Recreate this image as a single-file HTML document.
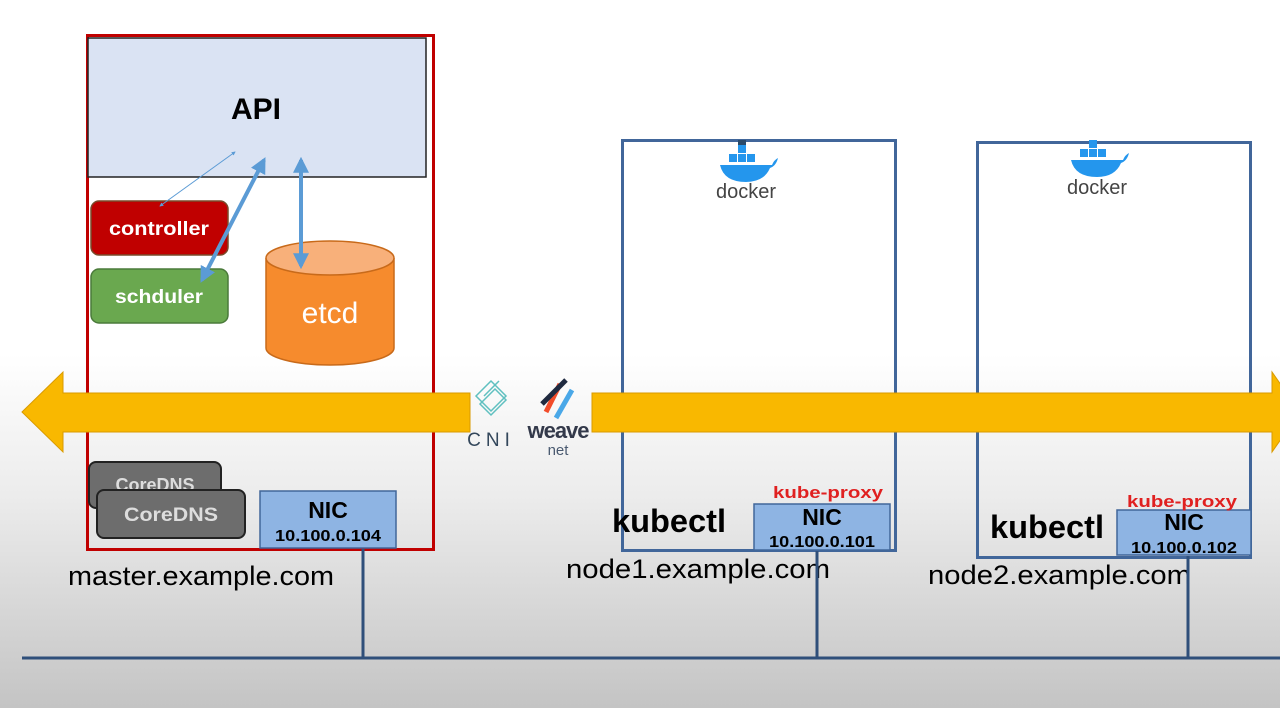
<!DOCTYPE html>
<html><head><meta charset="utf-8"><style>
html,body{margin:0;padding:0;width:1280px;height:708px;overflow:hidden}
svg{display:block}
text{font-family:"Liberation Sans","DejaVu Sans",sans-serif}
</style></head><body>
<svg width="1280" height="708" viewBox="0 0 1280 708" xmlns="http://www.w3.org/2000/svg">
<defs>
<linearGradient id="bg" x1="0" y1="0" x2="0" y2="1">
<stop offset="0" stop-color="#ffffff"/><stop offset="0.5" stop-color="#ffffff"/><stop offset="0.7" stop-color="#ececec"/><stop offset="1" stop-color="#c4c4c4"/>
</linearGradient>
<marker id="ah" viewBox="0 0 10 10" refX="8" refY="5" markerWidth="4" markerHeight="4" orient="auto-start-reverse"><path d="M0,0 L10,5 L0,10 z" fill="#5b9bd5"/></marker>
</defs>
<rect width="1280" height="708" fill="url(#bg)"/>
<!-- master box -->
<rect x="87.5" y="35.5" width="346" height="514" fill="none" stroke="#c00000" stroke-width="3"/>
<rect x="88" y="38" width="338" height="139" fill="#dae3f3" stroke="#222" stroke-width="1.5"/>
<text x="256" y="119" font-size="30" font-weight="bold" text-anchor="middle">API</text>
<!-- controller / scheduler -->
<rect x="91" y="201" width="137" height="54" rx="8" fill="#c00000" stroke="#7a4a2a" stroke-width="1.5"/>
<text x="159" y="235" font-size="19" font-weight="bold" fill="#fff" text-anchor="middle" textLength="100" lengthAdjust="spacingAndGlyphs">controller</text>
<rect x="91" y="269" width="137" height="54" rx="8" fill="#6aa84f" stroke="#4a7a3a" stroke-width="1.5"/>
<text x="159" y="303" font-size="19" font-weight="bold" fill="#fff" text-anchor="middle" textLength="88" lengthAdjust="spacingAndGlyphs">schduler</text>
<!-- etcd -->
<path d="M266,258 L266,348 A64,17 0 0 0 394,348 L394,258" fill="#f68b2d" stroke="#c86a1a" stroke-width="1.5"/>
<ellipse cx="330" cy="258" rx="64" ry="17" fill="#f8b07a" stroke="#c86a1a" stroke-width="1.5"/>
<text x="330" y="323" font-size="30" fill="#fff" text-anchor="middle">etcd</text>
<!-- arrows -->
<line x1="160" y1="206" x2="235" y2="152" stroke="#5b9bd5" stroke-width="1" marker-start="url(#ah)" marker-end="url(#ah)" />
<line x1="202" y1="280" x2="264" y2="160" stroke="#5b9bd5" stroke-width="4" marker-start="url(#ah)" marker-end="url(#ah)"/>
<line x1="301" y1="266" x2="301" y2="160" stroke="#5b9bd5" stroke-width="4" marker-start="url(#ah)" marker-end="url(#ah)"/>
<!-- node boxes -->
<rect x="622.5" y="140.5" width="273" height="410" fill="none" stroke="#41669a" stroke-width="3"/>
<rect x="977.5" y="142.5" width="273" height="415" fill="none" stroke="#41669a" stroke-width="3"/>
<!-- yellow arrow -->
<path d="M22,412 L63,372 L63,393 L470,393 L470,432 L63,432 L63,452 Z" fill="#f9b800" stroke="#d99a00" stroke-width="1"/>
<path d="M592,393 L1272,393 L1272,372 L1300,412 L1272,452 L1272,432 L592,432 Z" fill="#f9b800" stroke="#d99a00" stroke-width="1"/>
<!-- CNI / weave -->
<g stroke="#5fc0c0" stroke-width="1.5" fill="none">
<path d="M476,396 L491,381 L506,396 L491,411 Z"/><path d="M480,404 L495,389 L506,400 L491,415 Z"/><path d="M484,396 L499,381"/>
</g>
<text x="491" y="446" font-size="19" fill="#33475b" text-anchor="middle" letter-spacing="5">CNI</text>
<g stroke-width="5" stroke-linecap="butt">
<line x1="546" y1="412" x2="560" y2="384" stroke="#f24c2a"/><line x1="556" y1="418" x2="572" y2="390" stroke="#4aa8e8"/><line x1="542" y1="404" x2="566" y2="380" stroke="#1f2a40"/>
</g>
<text x="558" y="438" font-size="22" font-weight="bold" fill="#33394a" text-anchor="middle" letter-spacing="-1">weave</text>
<text x="558" y="455" font-size="15" fill="#4a5a70" text-anchor="middle">net</text>
<!-- docker -->
<g fill="#2496ed">
<path d="M720,165 L772,165 Q774,160 778,158 Q776,166 770,168 Q764,182 746,182 Q724,182 720,165 Z"/>
<rect x="729" y="154" width="8" height="8"/><rect x="738" y="154" width="8" height="8"/><rect x="747" y="154" width="8" height="8"/><rect x="738" y="145" width="8" height="8"/><rect x="738" y="140" width="8" height="5" fill="#2a4a6a"/>
<path d="M1071,160 L1123,160 Q1125,155 1129,153 Q1127,161 1121,163 Q1115,177 1097,177 Q1075,177 1071,160 Z"/>
<rect x="1080" y="149" width="8" height="8"/><rect x="1089" y="149" width="8" height="8"/><rect x="1098" y="149" width="8" height="8"/><rect x="1089" y="140" width="8" height="8"/>
</g>
<text x="746" y="198" font-size="20" fill="#444" text-anchor="middle">docker</text>
<text x="1097" y="194" font-size="20" fill="#444" text-anchor="middle">docker</text>
<!-- CoreDNS -->
<rect x="89" y="462" width="132" height="46" rx="7" fill="#6d6d6d" stroke="#222" stroke-width="2"/>
<text x="155" y="491" font-size="18" font-weight="bold" fill="#ddd" text-anchor="middle">CoreDNS</text>
<rect x="97" y="490" width="148" height="48" rx="7" fill="#6d6d6d" stroke="#222" stroke-width="2"/>
<text x="171" y="521" font-size="19" font-weight="bold" fill="#ddd" text-anchor="middle" textLength="94" lengthAdjust="spacingAndGlyphs">CoreDNS</text>
<!-- NICs -->
<rect x="260" y="491" width="136" height="57" fill="#8eb4e3" stroke="#41669a" stroke-width="1.5"/>
<text x="328" y="518" font-size="23" font-weight="bold" text-anchor="middle">NIC</text>
<text x="328" y="541" font-size="16" font-weight="bold" text-anchor="middle" textLength="106" lengthAdjust="spacingAndGlyphs">10.100.0.104</text>
<rect x="754" y="504" width="136" height="46" fill="#8eb4e3" stroke="#41669a" stroke-width="1.5"/>
<text x="822" y="525" font-size="23" font-weight="bold" text-anchor="middle">NIC</text>
<text x="822" y="547" font-size="16" font-weight="bold" text-anchor="middle" textLength="106" lengthAdjust="spacingAndGlyphs">10.100.0.101</text>
<rect x="1117" y="510" width="134" height="45" fill="#8eb4e3" stroke="#41669a" stroke-width="1.5"/>
<text x="1184" y="530" font-size="23" font-weight="bold" text-anchor="middle">NIC</text>
<text x="1184" y="553" font-size="16" font-weight="bold" text-anchor="middle" textLength="106" lengthAdjust="spacingAndGlyphs">10.100.0.102</text>
<text x="828" y="498" font-size="17" font-weight="bold" fill="#e02020" text-anchor="middle" textLength="110" lengthAdjust="spacingAndGlyphs">kube-proxy</text>
<text x="1182" y="507" font-size="17" font-weight="bold" fill="#e02020" text-anchor="middle" textLength="110" lengthAdjust="spacingAndGlyphs">kube-proxy</text>
<text x="669" y="532" font-size="32" font-weight="bold" text-anchor="middle" textLength="114" lengthAdjust="spacingAndGlyphs">kubectl</text>
<text x="1047" y="538" font-size="32" font-weight="bold" text-anchor="middle" textLength="114" lengthAdjust="spacingAndGlyphs">kubectl</text>
<!-- labels -->
<text x="68" y="585" font-size="27" textLength="266" lengthAdjust="spacingAndGlyphs">master.example.com</text>
<text x="566" y="578" font-size="27" textLength="264" lengthAdjust="spacingAndGlyphs">node1.example.com</text>
<text x="928" y="584" font-size="27" textLength="263" lengthAdjust="spacingAndGlyphs">node2.example.com</text>
<!-- network -->
<g stroke="#2f4f7a" stroke-width="3">
<line x1="363" y1="549" x2="363" y2="658"/><line x1="817" y1="551" x2="817" y2="658"/><line x1="1188" y1="556" x2="1188" y2="658"/>
<line x1="22" y1="658" x2="1280" y2="658"/>
</g>
</svg>
</body></html>
